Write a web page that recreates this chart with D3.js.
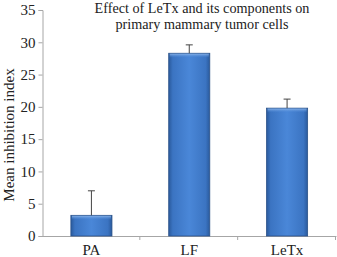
<!DOCTYPE html>
<html><head><meta charset="utf-8">
<script src="https://cdn.jsdelivr.net/npm/d3@7"></script>
<style>body{margin:0;background:#fff}svg{display:block}</style>
</head><body>
<script>
const categories = ["PA", "LF", "LeTx"];
const values = [3.2, 28.3, 19.8];
const errors = [3.8, 1.3, 1.4];
const yTicks = [0, 5, 10, 15, 20, 25, 30, 35];
const titleLines = ["Effect of LeTx and its components on", "primary mammary tumor cells"];
const yLabel = "Mean inhibition index";

const W = 337, H = 257;
const m = {left: 42.5, right: 1, top: 10, bottom: 21};
const svg = d3.select("body").append("svg").attr("width", W).attr("height", H);
const font = "'Liberation Serif', 'Times New Roman', serif";

const x = d3.scaleBand().domain(categories).range([m.left, W - m.right]).paddingInner(0).paddingOuter(0);
const y = d3.scaleLinear().domain([0, 35]).range([H - m.bottom, m.top]);

const defs = svg.append("defs");
const g = defs.append("linearGradient").attr("id", "barGrad").attr("x1", "0").attr("x2", "1").attr("y1", "0").attr("y2", "0");
[[0, "#2a5a9c"], [0.1, "#3b74c2"], [0.5, "#4a87d8"], [0.9, "#3b74c2"], [1, "#2a5a9c"]]
  .forEach(s => g.append("stop").attr("offset", s[0]).attr("stop-color", s[1]));
const gt = defs.append("linearGradient").attr("id", "topGrad").attr("x1", "0").attr("x2", "0").attr("y1", "0").attr("y2", "1");
gt.append("stop").attr("offset", "0").attr("stop-color", "#8db6ea").attr("stop-opacity", 0.9);
gt.append("stop").attr("offset", "1").attr("stop-color", "#4a87d8").attr("stop-opacity", 0);

// y axis
const yAxis = svg.append("g").attr("transform", `translate(${m.left},0)`)
  .call(d3.axisLeft(y).tickValues(yTicks).tickSize(4).tickPadding(3));
yAxis.select(".domain").attr("stroke", "#a6a6a6");
yAxis.selectAll(".tick line").attr("stroke", "#a6a6a6");
yAxis.selectAll(".tick text").attr("font-family", font).attr("font-size", 15).attr("fill", "#222");

// x axis
const xAxis = svg.append("g").attr("transform", `translate(0,${y(0)})`)
  .call(d3.axisBottom(x).tickSize(0).tickPadding(8));
xAxis.select(".domain").attr("stroke", "#a6a6a6");
xAxis.selectAll(".tick text").attr("font-family", font).attr("font-size", 15).attr("fill", "#222");
const bounds = categories.map(c => x(c) + x.bandwidth());
svg.append("g").selectAll("line").data(bounds).join("line")
  .attr("x1", d => d - 0.5).attr("x2", d => d - 0.5)
  .attr("y1", y(0)).attr("y2", y(0) + 4).attr("stroke", "#a6a6a6");

// bars
const bw = x.bandwidth() * 0.42;
const data = categories.map((c, i) => ({c, v: values[i], e: errors[i]}));
const bars = svg.append("g");
bars.selectAll("rect.bar").data(data).join("rect").attr("class", "bar")
  .attr("x", d => x(d.c) + (x.bandwidth() - bw) / 2)
  .attr("width", bw)
  .attr("y", d => y(d.v))
  .attr("height", d => y(0) - y(d.v))
  .attr("fill", "url(#barGrad)")
  .attr("stroke", "#2b5289").attr("stroke-width", 0.8);
bars.selectAll("rect.hl").data(data).join("rect").attr("class", "hl")
  .attr("x", d => x(d.c) + (x.bandwidth() - bw) / 2 + 1)
  .attr("width", bw - 2)
  .attr("y", d => y(d.v) + 0.5)
  .attr("height", 4)
  .attr("fill", "url(#topGrad)");

// error bars
const eg = svg.append("g").attr("stroke", "#444").attr("stroke-width", 1);
data.forEach(d => {
  const cx = x(d.c) + x.bandwidth() / 2;
  eg.append("line").attr("x1", cx).attr("x2", cx).attr("y1", y(d.v)).attr("y2", y(d.v + d.e));
  eg.append("line").attr("x1", cx - 3.5).attr("x2", cx + 3.5).attr("y1", y(d.v + d.e)).attr("y2", y(d.v + d.e));
});

// title
svg.append("g").selectAll("text").data(titleLines).join("text")
  .attr("x", 202).attr("y", (d, i) => 12.5 + i * 16)
  .attr("text-anchor", "middle").attr("font-family", font).attr("font-size", 14.2).attr("fill", "#222")
  .text(d => d);

// y label
svg.append("text").attr("transform", `translate(14,${135}) rotate(-90)`)
  .attr("text-anchor", "middle").attr("font-family", font).attr("font-size", 15).attr("fill", "#222")
  .text(yLabel);
</script>
</body></html>
